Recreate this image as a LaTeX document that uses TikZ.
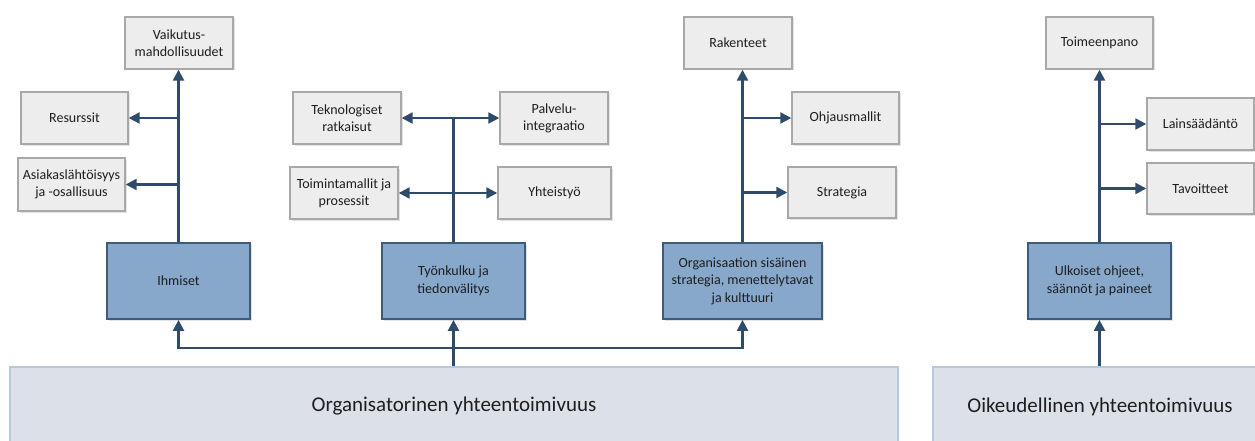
\documentclass[tikz,border=0pt]{standalone}
\usepackage{fontspec}
\setmainfont{Carlito}
\usetikzlibrary{arrows.meta,shadows}
\definecolor{linec}{HTML}{2F4B6A}
\definecolor{greyfill}{HTML}{EDEDED}
\definecolor{greyline}{HTML}{A8A8A8}
\definecolor{bluefill}{HTML}{87A8CB}
\definecolor{blueline}{HTML}{3E5B7B}
\definecolor{basefill}{HTML}{DCE1E9}
\definecolor{basedraw}{HTML}{B5C8DC}
\definecolor{txt}{HTML}{1E1E1E}
\begin{document}
\begin{tikzpicture}[x=1pt,y=-1pt,
  gbox/.style={draw=greyline, line width=1.4pt, fill=greyfill, minimum width=108pt, minimum height=52pt,
    align=center, text=txt, font=\fontsize{14}{17}\selectfont, inner sep=2pt,
    drop shadow={shadow xshift=1.5pt, shadow yshift=-1.5pt, opacity=0.22}},
  bbox/.style={draw=blueline, line width=1.8pt, fill=bluefill, minimum width=143pt, minimum height=76pt,
    align=center, text=txt, font=\fontsize{14}{17.5}\selectfont, inner sep=2pt,
    drop shadow={shadow xshift=1.5pt, shadow yshift=-2pt, opacity=0.22}},
  basebox/.style={draw=basedraw, line width=1.4pt, fill=basefill, minimum height=79pt,
    text=txt, font=\fontsize{21}{25}\selectfont},
  conn/.style={draw=linec, line width=2.3pt},
  arr/.style={conn, -{Triangle[length=11pt,width=11pt]}}]
\useasboundingbox (0,0) rectangle (1255,441);
\fill[white] (0,0) rectangle (1255,441);
\clip (0,0) rectangle (1255,441);

% grey boxes
\node[gbox] (vaik) at (179,43) {Vaikutus-\\mahdollisuudet};
\node[gbox, minimum width=107pt] (res) at (74.5,118) {Resurssit};
\node[gbox, minimum width=107pt, minimum height=53pt] (asi) at (71.5,184.5) {Asiakaslähtöisyys\\ja -osallisuus};
\node[gbox] (tek) at (347,118) {Teknologiset\\ratkaisut};
\node[gbox] (pal) at (554,118) {Palvelu-\\integraatio};
\node[gbox] (toi) at (344,193) {Toimintamallit ja\\prosessit};
\node[gbox, minimum width=113pt] (yht) at (554.5,193) {Yhteistyö};
\node[gbox] (rak) at (738,43) {Rakenteet};
\node[gbox, minimum width=107pt] (ohj) at (845.5,118) {Ohjausmallit};
\node[gbox, minimum height=51pt] (str) at (842,192.5) {Strategia};
\node[gbox, minimum width=107pt] (tpa) at (1099.5,43) {Toimeenpano};
\node[gbox, minimum width=107pt] (lai) at (1200.5,124) {Lainsäädäntö};
\node[gbox, minimum width=107pt, minimum height=51pt] (tav) at (1200.5,188.5) {Tavoitteet};

% blue boxes
\node[bbox] (ihm) at (178.5,281) {Ihmiset};
\node[bbox] (tyo) at (453.5,281) {Työnkulku ja\\tiedonvälitys};
\node[bbox, minimum width=159pt] (org) at (742.5,281) {Organisaation sisäinen\\strategia, menettelytavat\\ja kulttuuri};
\node[bbox] (ulk) at (1099.5,281) {Ulkoiset ohjeet,\\säännöt ja paineet};

% base boxes
\node[basebox, minimum width=888pt] (orgb) at (454,406.5) {Organisatorinen yhteentoimivuus};
\node[basebox, minimum width=334pt] (oikb) at (1100,406.5) {Oikeudellinen yhteentoimivuus};

% Ihmiset connectors
\draw[arr] (ihm.north) -- (ihm.north |- vaik.south);
\draw[arr] (ihm.north |- res.east) -- (res.east);
\draw[arr] (ihm.north |- asi.east) -- (asi.east);

% Tyonkulku connectors
\draw[conn] (tyo.north) -- (tyo.north |- tek.east);
\draw[arr] (tyo.north |- tek.east) -- (tek.east);
\draw[arr] (tyo.north |- pal.west) -- (pal.west);
\draw[arr] (tyo.north |- toi.east) -- (toi.east);
\draw[arr] (tyo.north |- yht.west) -- (yht.west);

% Organisaation connectors
\draw[arr] (org.north) -- (org.north |- rak.south);
\draw[arr] (org.north |- ohj.west) -- (ohj.west);
\draw[arr] (org.north |- str.west) -- (str.west);

% Ulkoiset connectors
\draw[arr] (ulk.north) -- (ulk.north |- tpa.south);
\draw[arr] (ulk.north |- lai.west) -- (lai.west);
\draw[arr] (ulk.north |- tav.west) -- (tav.west);

% bottom connectors
\coordinate (hb) at (453.5,348);
\draw[arr] (tyo.south |- orgb.north) -- (tyo.south);
\draw[conn, {Triangle[length=11pt,width=11pt]}-{Triangle[length=11pt,width=11pt]}] (ihm.south) |- (hb) -| (org.south);
\draw[arr] (ulk.south |- oikb.north) -- (ulk.south);
\end{tikzpicture}
\end{document}
